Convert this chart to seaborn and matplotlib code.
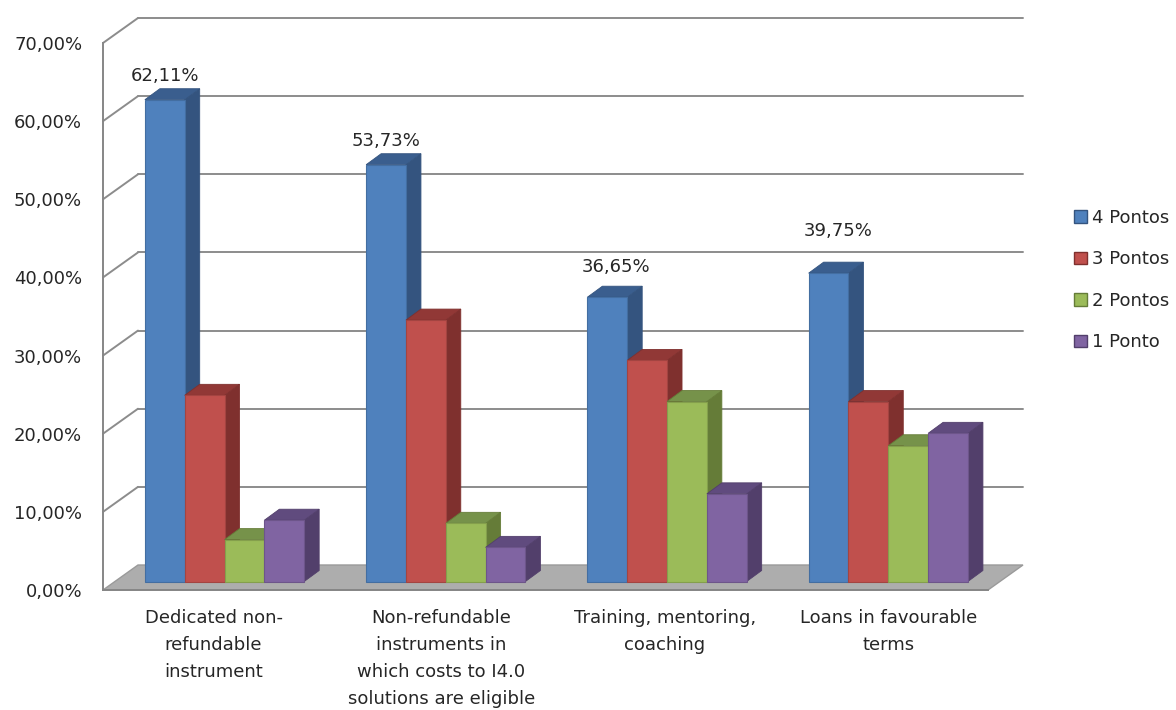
import numpy as np
import pandas as pd
import matplotlib
matplotlib.use("Agg")
import matplotlib.pyplot as plt
import seaborn as sns
from matplotlib.patches import Polygon
from matplotlib.lines import Line2D
from matplotlib.transforms import IdentityTransform
from matplotlib.ticker import FuncFormatter
from matplotlib.colors import to_rgb

# ---- data -------------------------------------------------------------
categories = [
    "Dedicated non-\nrefundable\ninstrument",
    "Non-refundable\ninstruments in\nwhich costs to I4.0\nsolutions are eligible",
    "Training, mentoring,\ncoaching",
    "Loans in favourable\nterms",
]
levels = ["4 Pontos", "3 Pontos", "2 Pontos", "1 Ponto"]
pts4 = [62.11, 53.73, 36.65, 39.75]
pts3 = [24.0, 33.7, 28.5, 23.2]
pts2 = [5.4, 7.5, 23.2, 17.5]
pts1 = [7.9, 4.4, 11.3, 19.1]
y_ticks = [0, 10, 20, 30, 40, 50, 60, 70]

front_cols = ["#4F81BD", "#C0504D", "#9BBB59", "#8064A2"]
side_cols = ["#34547F", "#7F302E", "#657C38", "#523F6B"]
top_cols = ["#3A5E8E", "#913836", "#76924A", "#604B7E"]

# label placement above the "4 Pontos" bars (points)
label_dx = [0, 0, 6, 7]
label_dy = [17, 17, 22, 30]

df = pd.DataFrame({
    "category": categories * 4,
    "level": np.repeat(levels, len(categories)),
    "value": pts4 + pts3 + pts2 + pts1,
})

# ---- figure -----------------------------------------------------------
sns.set_style("white")
plt.rcParams["font.family"] = ["DejaVu Sans"]
FS = 13
TXT = "#262626"
AX_COL = "#868686"

W, H = 1176, 710
fig = plt.figure(figsize=(W / 100, H / 100), dpi=100)


def add_px_axes(left, right, bottom, top):
    """Axes placed by pixel edges measured from the top-left corner."""
    return fig.add_axes([left / W, 1 - bottom / H, (right - left) / W, (bottom - top) / H])


pct = FuncFormatter(lambda v, _: f"{v:.2f}".replace(".", ",") + "%")

# back wall with gridlines
ax_back = add_px_axes(138, 1023, 565, 18)
ax_back.set_xlim(0, 1)
ax_back.set_ylim(0, 70)
ax_back.set_facecolor("none")
for s in ax_back.spines.values():
    s.set_visible(False)
ax_back.set_xticks([])
ax_back.set_yticks([])
for v in y_ticks[1:]:
    ax_back.axhline(v, color="#8C8C8C", lw=1.4, clip_on=False)
ax_back.set_zorder(0)

# front frame: value axis and category axis
ax_front = add_px_axes(103, 988, 590, 43)
ax_front.set_xlim(-0.5, 3.5)
ax_front.set_ylim(0, 70)
ax_front.set_facecolor("none")
ax_front.spines["top"].set_visible(False)
ax_front.spines["right"].set_visible(False)
for side in ("left", "bottom"):
    ax_front.spines[side].set_color(AX_COL)
    ax_front.spines[side].set_linewidth(1.4)
ax_front.set_yticks(y_ticks)
ax_front.yaxis.set_major_formatter(pct)
ax_front.tick_params(axis="y", direction="out", length=5, width=1.2, color=AX_COL,
                     labelsize=FS, labelcolor=TXT, pad=10)
ax_front.set_xticks(np.arange(-0.5, 4.0, 1.0), minor=True)
ax_front.set_xticks(np.arange(len(categories)) + np.array([0.0, 0.03, 0.04, 0.05]))
ax_front.set_xticklabels(categories, fontsize=FS, color=TXT, linespacing=1.63, va="top")
ax_front.tick_params(axis="x", which="major", length=0, pad=14)
ax_front.tick_params(axis="x", which="minor", direction="out", length=5, width=1.2, color=AX_COL)
ax_front.set_zorder(2)

# bars (front faces) drawn by seaborn
ax = add_px_axes(113.9, 998.9, 581.5, 38.5)
sns.barplot(data=df, x="category", y="value", hue="level", hue_order=levels,
            palette=front_cols, saturation=1, width=0.72, errorbar=None, ax=ax)
ax.set_xlim(-0.5, 3.5)
ax.set_ylim(0, 70)
ax.set_facecolor("none")
for s in ax.spines.values():
    s.set_visible(False)
ax.set_xticks([])
ax.set_yticks([])
ax.set_xlabel("")
ax.set_ylabel("")
handles, labels = ax.get_legend_handles_labels()
if ax.get_legend() is not None:
    ax.get_legend().remove()
ax.set_zorder(1)

fig.canvas.draw()

# floor and the short links between front axis and back wall
fl = ax_front.transData.transform([(-0.5, 0), (3.5, 0)])
bl = ax_back.transData.transform([(1, 0), (0, 0)])
floor = Polygon(np.vstack([fl, bl]), closed=True, facecolor="#ADADAD", edgecolor="#9A9A9A",
                lw=1.0, transform=IdentityTransform(), zorder=0.5)
fig.add_artist(floor)
for v in y_ticks[1:]:
    p0 = ax_front.transData.transform((-0.5, v))
    p1 = ax_back.transData.transform((0, v))
    fig.add_artist(Line2D([p0[0], p1[0]], [p0[1], p1[1]], color="#8C8C8C", lw=1.4,
                          transform=IdentityTransform(), zorder=0.6))

# 3-D extrusion: side and top faces for every bar
DX, DY = 15, 11
bars = []
for j, cont in enumerate(ax.containers):
    for p in cont.patches:
        bars.append((p.get_x(), p.get_width(), p.get_height(), j, p))
bars.sort(key=lambda b: b[0])
for k, (x, w, h, j, p) in enumerate(bars):
    tl, tr, br = ax.transData.transform([(x, h), (x + w, h), (x + w, 0)])
    d = np.array([DX, DY])
    side = Polygon([br, br + d, tr + d, tr], closed=True, facecolor=side_cols[j],
                   edgecolor=side_cols[j], lw=0.6, transform=IdentityTransform(),
                   clip_on=False, zorder=10 + 2 * k)
    top = Polygon([tl, tr, tr + d, tl + d], closed=True, facecolor=top_cols[j],
                  edgecolor=side_cols[j], lw=0.6, transform=IdentityTransform(),
                  clip_on=False, zorder=10 + 2 * k)
    ax.add_patch(side)
    ax.add_patch(top)
    edge = tuple(c * 0.85 for c in to_rgb(front_cols[j]))
    p.set_edgecolor(edge)
    p.set_linewidth(0.8)
    p.set_zorder(11 + 2 * k)
    p.set_clip_on(False)

# value labels on the "4 Pontos" bars
for p, v, ox, oy in zip(ax.containers[0].patches, pts4, label_dx, label_dy):
    ax.annotate(f"{v:.2f}".replace(".", ",") + "%", xy=(p.get_x() + p.get_width() / 2, p.get_height()),
                xytext=(ox, oy), textcoords="offset points", ha="center", va="center",
                fontsize=FS, color=TXT, zorder=50, annotation_clip=False)

# legend
leg = ax_front.legend(handles, labels, loc="center left",
                      bbox_to_anchor=(1065 / W, 1 - 280 / H), bbox_transform=fig.transFigure,
                      frameon=False, fontsize=FS, handlelength=0.7, handleheight=0.7,
                      handletextpad=0.3, labelspacing=1.3, borderpad=0)
for t in leg.get_texts():
    t.set_color(TXT)
for hnd, j in zip(leg.legend_handles, range(4)):
    hnd.set_edgecolor(side_cols[j])
    hnd.set_linewidth(1.0)

fig.savefig("out.png", dpi=100)
